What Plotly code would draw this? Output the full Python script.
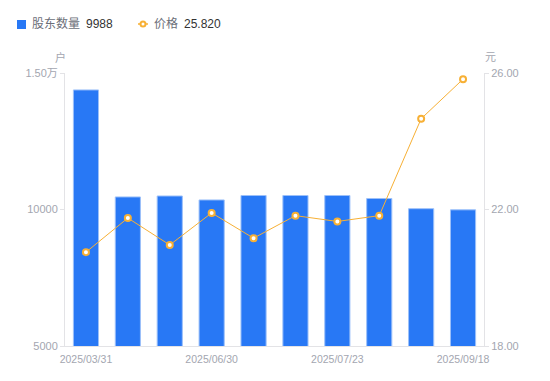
import plotly.graph_objects as go

dates = ["2025/03/31", "2025/04/10", "2025/05/20", "2025/06/30", "2025/07/10",
         "2025/07/18", "2025/07/23", "2025/08/20", "2025/08/31", "2025/09/18"]
holders = [14380, 10460, 10495, 10350, 10513, 10513, 10513, 10403, 10030, 9988]
prices = [20.75, 21.75, 20.96, 21.90, 21.16, 21.82, 21.65, 21.82, 24.66, 25.82]
x_tick_labels = ["2025/03/31", "2025/06/30", "2025/07/23", "2025/09/18"]
y_tick_vals = [5000, 10000, 15000]
y_tick_text = ["5000", "10000", "1.50万"]
y2_tick_vals = [18, 22, 26]
y2_tick_text = ["18.00", "22.00", "26.00"]

BLUE = "#2878f5"
ORANGE = "#f7b035"
GRAY = "#a3a6b0"
AXIS = "#e3e3e6"
FONT = "Liberation Sans, Noto Sans CJK SC, sans-serif"

L, R, T, B = 65, 66, 73, 35
W, H = 550, 381
pw, ph = W - L - R, H - T - B

def px(x):
    return (x - L) / pw

def py(y):
    return (H - B - y) / ph

fig = go.Figure()
fig.add_trace(go.Bar(x=dates, y=holders, marker=dict(color=BLUE, line=dict(color="#9cc0f9", width=1)),
                     width=0.6, name="股东数量", yaxis="y"))
fig.add_trace(go.Scatter(x=dates, y=prices, mode="lines+markers", name="价格", yaxis="y2",
                         line=dict(color=ORANGE, width=1),
                         marker=dict(color="white", size=6, line=dict(color=ORANGE, width=2))))

shapes = [
    dict(type="rect", xref="paper", yref="paper", x0=px(17), x1=px(26), y0=py(29), y1=py(20),
         fillcolor=BLUE, line=dict(width=0)),
    dict(type="line", xref="paper", yref="paper", x0=px(138), x1=px(148), y0=py(24), y1=py(24),
         line=dict(color=ORANGE, width=1.5)),
    dict(type="circle", xref="paper", yref="paper", x0=px(140.5), x1=px(145.5), y0=py(26.5), y1=py(21.5),
         fillcolor="white", line=dict(color=ORANGE, width=2)),
]

annotations = [
    dict(text="股东数量", x=px(30), y=py(24), xref="paper", yref="paper", xanchor="left", yanchor="middle",
         showarrow=False, font=dict(size=12, color="#6b6e78")),
    dict(text="9988", x=px(84), y=py(24), xref="paper", yref="paper", xanchor="left", yanchor="middle",
         showarrow=False, font=dict(size=12, color="#333333")),
    dict(text="价格", x=px(152), y=py(24), xref="paper", yref="paper", xanchor="left", yanchor="middle",
         showarrow=False, font=dict(size=12, color="#6b6e78")),
    dict(text="25.820", x=px(182), y=py(24), xref="paper", yref="paper", xanchor="left", yanchor="middle",
         showarrow=False, font=dict(size=12, color="#333333")),
    dict(text="户", x=px(60), y=py(57), xref="paper", yref="paper", xanchor="center", yanchor="middle",
         showarrow=False, font=dict(size=11, color=GRAY)),
    dict(text="元", x=px(490), y=py(57), xref="paper", yref="paper", xanchor="center", yanchor="middle",
         showarrow=False, font=dict(size=11, color=GRAY)),
]

fig.update_layout(
    width=W, height=H,
    margin=dict(l=L, r=R, t=T, b=B),
    paper_bgcolor="white", plot_bgcolor="white",
    showlegend=False,
    font=dict(family=FONT, size=11, color=GRAY),
    bargap=0.4,
    shapes=shapes,
    annotations=annotations,
    xaxis=dict(type="category", tickmode="array", tickvals=x_tick_labels, ticktext=x_tick_labels,
               range=[-0.5, len(dates) - 0.5], ticklabelstandoff=3,
               showline=True, linecolor=AXIS, linewidth=1, showgrid=False, ticks="",
               tickfont=dict(size=10.5, color=GRAY), fixedrange=True),
    yaxis=dict(range=[5000, 15000], tickmode="array", tickvals=y_tick_vals, ticktext=y_tick_text,
               showline=True, linecolor=AXIS, linewidth=1, showgrid=False, zeroline=False,
               ticks="outside", ticklen=4, tickcolor=AXIS, tickfont=dict(size=11, color=GRAY)),
    yaxis2=dict(range=[18, 26], tickmode="array", tickvals=y2_tick_vals, ticktext=y2_tick_text,
                overlaying="y", side="right", showline=True, linecolor=AXIS, linewidth=1,
                showgrid=False, zeroline=False, ticks="outside", ticklen=4, tickcolor=AXIS,
                tickfont=dict(size=11, color=GRAY)),
)

fig.write_html("out.html", config={"displayModeBar": False},
               post_script="document.body.style.margin='0';document.body.style.overflow='hidden';")
